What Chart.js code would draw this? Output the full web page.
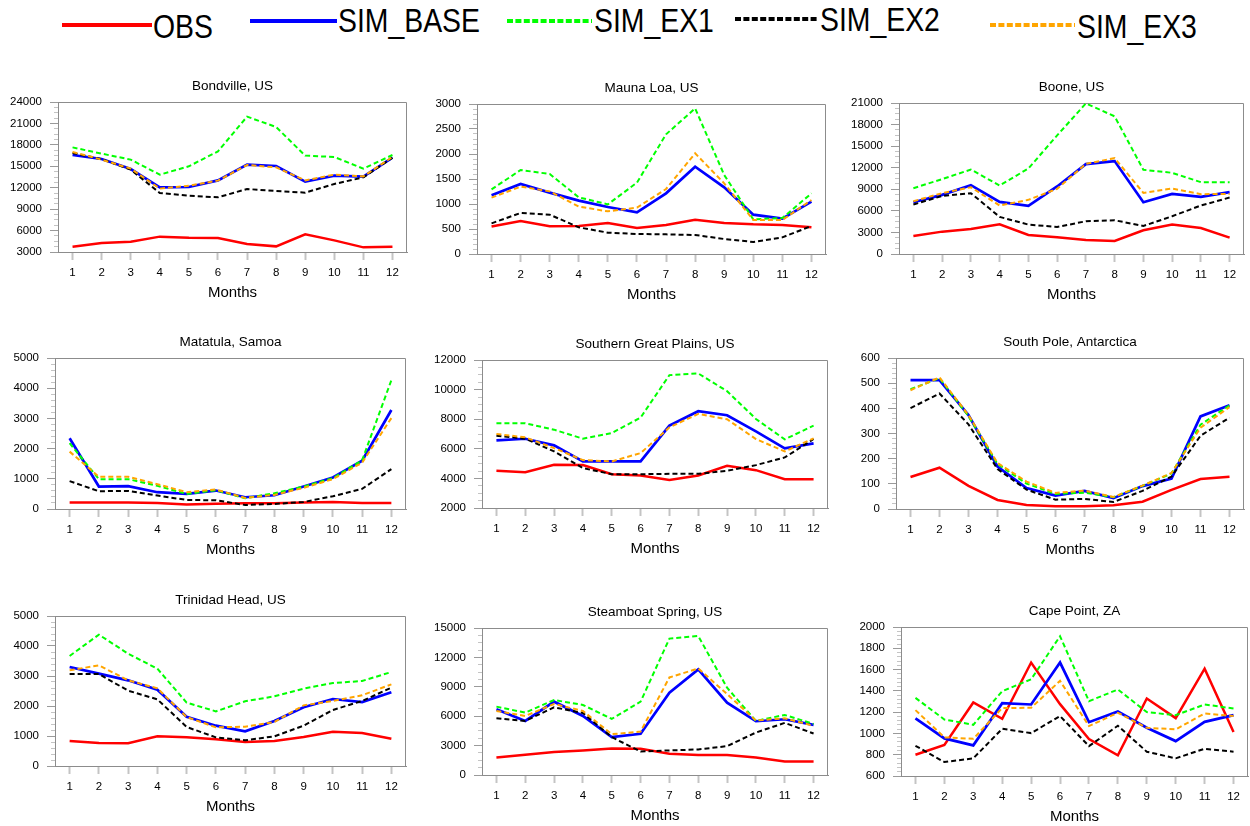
<!DOCTYPE html>
<html>
<head>
<meta charset="utf-8">
<script src="https://cdn.jsdelivr.net/npm/chart.js@4/dist/chart.umd.min.js"></script>
<style>
  html, body { margin: 0; padding: 0; background: #fff; }
  body { width: 1250px; height: 826px; position: relative; overflow: hidden; font-family: "Liberation Sans", Arial, Helvetica, sans-serif; }
  .panel { position: absolute; }
  .legline { position: absolute; overflow: visible; }
  .legtext { position: absolute; font-size: 33px; line-height: 33px; white-space: nowrap; color: #000; transform: scaleX(0.86); transform-origin: 0 50%; }
</style>
</head>
<body>
<script>
// ---------------- DATA ----------------
const months = ['1','2','3','4','5','6','7','8','9','10','11','12'];
const seriesNames = ['OBS', 'SIM_BASE', 'SIM_EX1', 'SIM_EX2', 'SIM_EX3'];
const stationTitles = ['Bondville, US', 'Mauna Loa, US', 'Boone, US',
  'Matatula, Samoa', 'Southern Great Plains, US', 'South Pole, Antarctica',
  'Trinidad Head, US', 'Steamboat Spring, US', 'Cape Point, ZA'];

// each station: [OBS, SIM_BASE, SIM_EX1, SIM_EX2, SIM_EX3]
const bondville = [
  [3750, 4250, 4450, 5150, 4980, 4960, 4120, 3790, 5470, 4630, 3650, 3750],
  [16580, 16020, 14620, 12050, 12100, 13030, 15230, 15040, 12850, 13690, 13550, 16200],
  [17650, 16770, 15930, 13830, 15000, 17090, 21950, 20500, 16490, 16300, 14670, 16580],
  [16860, 16000, 14530, 11260, 10890, 10650, 11820, 11540, 11310, 12520, 13450, 16200],
  [17000, 15930, 14670, 11870, 12290, 12990, 15180, 14850, 13030, 13830, 13590, 16300]
];
const maunaLoa = [
  [550, 660, 555, 560, 620, 520, 580, 687, 620, 593, 580, 533],
  [1173, 1400, 1227, 1067, 940, 833, 1213, 1747, 1333, 787, 707, 1047],
  [1293, 1680, 1600, 1133, 993, 1427, 2393, 2913, 1580, 693, 720, 1213],
  [613, 820, 787, 533, 427, 400, 393, 380, 300, 240, 333, 560],
  [1127, 1347, 1253, 947, 853, 927, 1300, 2013, 1413, 680, 680, 1080]
];
const boone = [
  [2510, 3110, 3490, 4140, 2650, 2320, 1950, 1810, 3300, 4090, 3620, 2280],
  [7200, 8220, 9570, 7250, 6690, 9390, 12500, 12920, 7200, 8360, 7950, 8600],
  [9150, 10410, 11750, 9520, 11890, 16490, 20950, 19140, 11710, 11290, 9990, 9990],
  [6880, 8080, 8460, 5160, 4090, 3760, 4550, 4690, 3900, 5250, 6740, 7850],
  [7340, 8460, 9290, 6740, 7530, 9060, 12540, 13330, 8500, 9110, 8320, 8360]
];
const matatula = [
  [215, 215, 215, 195, 150, 175, 190, 190, 215, 235, 200, 195],
  [2344, 744, 756, 556, 500, 611, 389, 456, 744, 1044, 1600, 3278],
  [2178, 989, 989, 767, 500, 622, 356, 522, 744, 1022, 1611, 4267],
  [922, 589, 600, 444, 300, 289, 133, 167, 233, 422, 667, 1322],
  [1900, 1067, 1067, 822, 556, 644, 367, 467, 700, 989, 1533, 3011]
];
const greatPlains = [
  [4510, 4420, 4920, 4900, 4285, 4195, 3900, 4195, 4850, 4556, 3945, 3945],
  [6570, 6680, 6230, 5145, 5145, 5145, 7565, 8537, 8266, 7180, 6026, 6366],
  [7723, 7723, 7293, 6682, 7067, 8107, 10980, 11093, 9894, 8017, 6637, 7565],
  [6886, 6682, 5823, 4692, 4285, 4285, 4307, 4307, 4511, 4896, 5416, 6660],
  [6999, 6773, 6049, 5235, 5144, 5710, 7451, 8356, 7994, 6660, 5823, 6705]
];
const southPole = [
  [127, 164, 92, 36, 16, 11, 11, 15, 29, 76, 119, 128],
  [512, 512, 373, 169, 83, 53, 72, 43, 91, 121, 368, 412],
  [476, 520, 369, 179, 101, 60, 65, 47, 92, 141, 335, 412],
  [401, 459, 336, 159, 77, 37, 40, 28, 72, 129, 291, 363],
  [472, 523, 373, 183, 109, 64, 73, 48, 93, 143, 323, 405]
];
const trinidadHead = [
  [833, 767, 756, 989, 956, 889, 800, 833, 967, 1144, 1100, 911],
  [3300, 3078, 2856, 2544, 1644, 1344, 1156, 1500, 1956, 2233, 2133, 2456],
  [3667, 4378, 3744, 3244, 2111, 1822, 2156, 2322, 2578, 2767, 2833, 3133],
  [3067, 3067, 2511, 2222, 1300, 956, 856, 989, 1344, 1867, 2167, 2611],
  [3189, 3356, 2856, 2589, 1633, 1289, 1311, 1467, 2022, 2167, 2356, 2722]
];
const steamboat = [
  [1795, 2065, 2336, 2506, 2709, 2675, 2167, 2032, 2032, 1795, 1388, 1388],
  [6704, 5519, 7483, 6027, 3860, 4199, 8397, 10767, 7381, 5485, 5688, 5113],
  [6975, 6366, 7652, 7145, 5722, 7483, 13916, 14187, 8905, 5519, 6129, 5214],
  [5790, 5519, 6907, 6332, 3860, 2404, 2506, 2607, 2946, 4334, 5316, 4233],
  [6535, 6027, 7246, 6535, 4165, 4436, 9955, 10869, 8262, 5553, 5790, 5011]
];
const capePoint = [
  [800, 891, 1291, 1138, 1666, 1275, 947, 794, 1328, 1144, 1609, 1013],
  [1141, 953, 888, 1284, 1272, 1666, 1106, 1206, 1053, 928, 1109, 1172],
  [1334, 1131, 1081, 1397, 1509, 1913, 1303, 1413, 1200, 1172, 1272, 1234],
  [884, 731, 766, 1044, 1003, 1163, 881, 1072, 828, 766, 856, 828],
  [1219, 963, 950, 1238, 1241, 1494, 1069, 1194, 1053, 1038, 1188, 1163]
];
const stationData = [bondville, maunaLoa, boone, matatula, greatPlains, southPole, trinidadHead, steamboat, capePoint];

// y-axis tick settings per station
const yMin   = [3000, 0, 0, 0, 2000, 0, 0, 0, 600];
const yMax   = [24000, 3000, 21000, 5000, 12000, 600, 5000, 15000, 2000];
const yMajor = [3000, 500, 3000, 1000, 2000, 100, 1000, 3000, 200];
const yMinor = [750, 100, 750, 200, 500, 20, 200, 750, 40];

// ---------------- LAYOUT / STYLE ----------------
// plot-area boxes [left, top, right, bottom] in page pixels
const plotBoxes = [
  [58, 102, 407, 252], [477, 104, 826, 254], [899, 103, 1244, 254],
  [55, 358, 406, 509], [482, 360, 828, 508], [896, 358, 1244, 509],
  [55, 616, 406, 766], [482, 628, 828, 775], [901, 627, 1248, 776]
];
const seriesColors = ['#ff0000', '#0000ff', '#00ff00', '#000000', '#ffa500'];
const seriesWidths = [2.5, 2.7, 2, 2, 2];
const seriesDash = [[], [], [5, 3], [5, 3], [5, 3]];
const FONT = '"Liberation Sans", Arial, Helvetica, sans-serif';
Chart.defaults.font.family = FONT;

const frame = {
  id: 'frame',
  beforeDatasetsDraw(chart) {
    const { ctx, chartArea: a } = chart;
    ctx.save();
    ctx.strokeStyle = '#8c8c8c';
    ctx.lineWidth = 1;
    ctx.beginPath();
    ctx.moveTo(a.left, Math.round(a.top) + 0.5);
    ctx.lineTo(Math.round(a.right) - 0.5, Math.round(a.top) + 0.5);
    ctx.lineTo(Math.round(a.right) - 0.5, a.bottom);
    ctx.stroke();
    ctx.restore();
  }
};

const Y_W = 52, TITLE_H = 30, X_H = 55, PAD_R = 4;

function isMajor(v, i) {
  const r = (v - yMin[i]) / yMajor[i];
  return Math.abs(r - Math.round(r)) < 1e-6;
}

function makePanel(i) {
  const [L, T, R, B] = plotBoxes[i];
  const div = document.createElement('div');
  div.className = 'panel';
  div.style.left = (L - Y_W) + 'px';
  div.style.top = (T - TITLE_H) + 'px';
  div.style.width = (R - L + Y_W + PAD_R) + 'px';
  div.style.height = (B - T + TITLE_H + X_H) + 'px';
  const canvas = document.createElement('canvas');
  div.appendChild(canvas);
  document.body.appendChild(div);

  const datasets = stationData[i].map((vals, k) => ({
    label: seriesNames[k],
    data: vals,
    borderColor: seriesColors[k],
    backgroundColor: seriesColors[k],
    borderWidth: seriesWidths[k],
    borderDash: seriesDash[k],
    pointRadius: 0,
    tension: 0,
    fill: false,
    order: 4 - k
  }));

  new Chart(canvas, {
    type: 'line',
    data: { labels: months, datasets },
    options: {
      responsive: true,
      maintainAspectRatio: false,
      animation: false,
      events: [],
      layout: { padding: { left: 0, right: PAD_R, top: 0, bottom: 0 } },
      plugins: {
        legend: { display: false },
        tooltip: { enabled: false },
        title: {
          display: true, text: stationTitles[i], fullSize: false,
          color: '#000', font: { size: 13.5, weight: 'normal', family: FONT },
          padding: { top: 5.8, bottom: 8.0 }
        }
      },
      scales: {
        x: {
          offset: true,
          afterFit: s => { s.height = X_H; },
          grid: { display: true, drawOnChartArea: false, drawTicks: true, tickLength: 8, tickColor: '#c4c4c4', tickWidth: 2 },
          border: { display: true, color: '#8c8c8c', width: 1 },
          ticks: { color: '#000', font: { size: 11.5, family: FONT }, padding: 6, autoSkip: false, maxRotation: 0 },
          title: { display: true, text: 'Months', color: '#000', font: { size: 15, family: FONT }, padding: { top: 0, bottom: 5 } }
        },
        y: {
          min: yMin[i], max: yMax[i],
          afterFit: s => { s.width = Y_W; },
          grid: {
            display: true, drawOnChartArea: false, drawTicks: true, tickLength: 8,
            tickColor: ctx => (ctx.tick && isMajor(ctx.tick.value, i)) ? '#9a9a9a' : '#c4c4c4',
            tickWidth: 1,
            tickBorderDash: ctx => (ctx.tick && isMajor(ctx.tick.value, i)) ? [] : [0, 4, 4, 0]
          },
          border: { display: true, color: '#8c8c8c', width: 1 },
          ticks: {
            stepSize: yMinor[i], autoSkip: false, maxTicksLimit: 1000, padding: 8,
            color: '#000', font: { size: 11.5, family: FONT },
            callback: v => isMajor(v, i) ? String(Math.round(v)) : ''
          }
        }
      }
    },
    plugins: [frame]
  });
}

for (let i = 0; i < stationData.length; i++) makePanel(i);

// ---------------- LEGEND (top) ----------------
const legendItems = [
  { x1: 62,  x2: 152,  y: 25, tx: 153,  ty: 26 },
  { x1: 250, x2: 337,  y: 21, tx: 338,  ty: 20 },
  { x1: 507, x2: 592,  y: 21, tx: 594,  ty: 20 },
  { x1: 735, x2: 818,  y: 19, tx: 820,  ty: 19 },
  { x1: 990, x2: 1075, y: 25, tx: 1077, ty: 26 }
];
const NS = 'http://www.w3.org/2000/svg';
legendItems.forEach((it, k) => {
  const svg = document.createElementNS(NS, 'svg');
  svg.setAttribute('class', 'legline');
  svg.setAttribute('width', it.x2 - it.x1);
  svg.setAttribute('height', 8);
  svg.style.left = it.x1 + 'px';
  svg.style.top = (it.y - 4) + 'px';
  const ln = document.createElementNS(NS, 'line');
  ln.setAttribute('x1', 0); ln.setAttribute('x2', it.x2 - it.x1);
  ln.setAttribute('y1', 4); ln.setAttribute('y2', 4);
  ln.setAttribute('stroke', seriesColors[k]);
  ln.setAttribute('stroke-width', 4);
  if (seriesDash[k].length) ln.setAttribute('stroke-dasharray', '6 2.4');
  svg.appendChild(ln);
  document.body.appendChild(svg);
  const t = document.createElement('div');
  t.className = 'legtext';
  t.textContent = seriesNames[k];
  t.style.left = it.tx + 'px';
  t.style.top = (it.ty - 16) + 'px';
  document.body.appendChild(t);
});
</script>
</body>
</html>
